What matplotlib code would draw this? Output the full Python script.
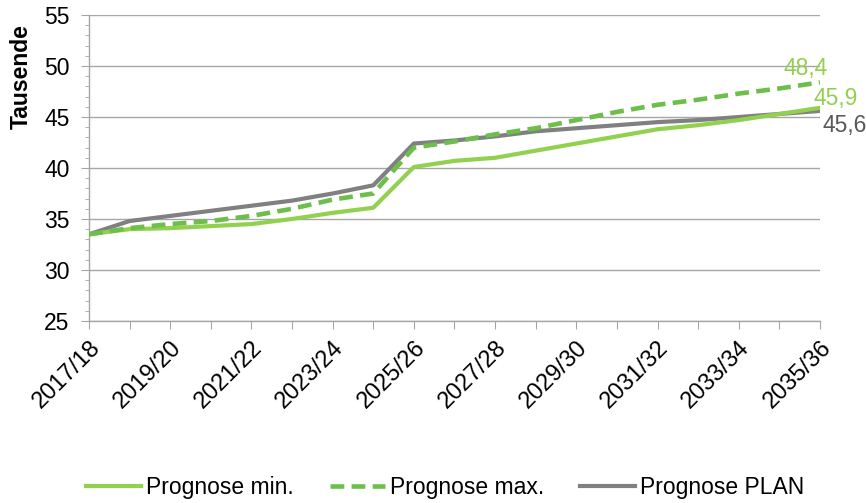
import matplotlib.pyplot as plt
from matplotlib.ticker import MultipleLocator

plt.rcParams['font.family'] = ['Liberation Sans', 'DejaVu Sans']

# Schuljahre (x categories)
years = ['2017/18', '2018/19', '2019/20', '2020/21', '2021/22', '2022/23',
         '2023/24', '2024/25', '2025/26', '2026/27', '2027/28', '2028/29',
         '2029/30', '2030/31', '2031/32', '2032/33', '2033/34', '2034/35',
         '2035/36']

# values in thousands
prognose_min = [33.5, 34.0, 34.1, 34.3, 34.5, 35.0, 35.6, 36.1, 40.1, 40.7,
                41.0, 41.7, 42.4, 43.1, 43.8, 44.2, 44.7, 45.3, 45.9]
prognose_max = [33.5, 34.1, 34.5, 34.8, 35.3, 36.0, 36.9, 37.5, 42.0, 42.6,
                43.3, 43.9, 44.7, 45.5, 46.2, 46.7, 47.3, 47.8, 48.4]
prognose_plan = [33.5, 34.8, 35.3, 35.8, 36.3, 36.8, 37.5, 38.3, 42.4, 42.7,
                 43.1, 43.6, 43.9, 44.2, 44.5, 44.7, 45.0, 45.3, 45.6]

c_min = '#92D050'
c_max = '#6DBE4B'
c_plan = '#808080'
fs = 16.5

fig = plt.figure(figsize=(8.66, 5.03), dpi=100)
ax = fig.add_axes([0.1028, 0.362, 0.844, 0.608])

x = list(range(len(years)))
ax.plot(x, prognose_min, color=c_min, lw=3, label='Prognose min.', zorder=3)
ax.plot(x, prognose_max, color=c_max, lw=3.3, dashes=(3, 1.6), label='Prognose max.', zorder=4)
ax.plot(x, prognose_plan, color=c_plan, lw=3, label='Prognose PLAN', zorder=2)

# end labels
ax.text(x[-1] - 0.34, prognose_max[-1] + 1.4, '48,4', color=c_min, fontsize=fs,
        ha='center', va='center', clip_on=False)
ax.text(x[-1] + 0.4, prognose_min[-1] + 0.95, '45,9', color=c_min, fontsize=fs,
        ha='center', va='center', clip_on=False)
ax.text(x[-1] + 0.6, prognose_plan[-1] - 1.4, '45,6', color='#595959', fontsize=fs,
        ha='center', va='center', clip_on=False)

ax.set_xlim(0, len(years) - 1)
ax.set_ylim(25, 55)
ax.yaxis.set_major_locator(MultipleLocator(5))
ax.yaxis.set_minor_locator(MultipleLocator(1))
ax.grid(True, axis='y', color='#A6A6A6', lw=1)
ax.set_axisbelow(True)

ax.set_xticks(x)
ax.set_xticklabels([y if i % 2 == 0 else '' for i, y in enumerate(years)],
                   rotation=45, ha='right', va='top', rotation_mode='anchor')

for s in ['top', 'right']:
    ax.spines[s].set_visible(False)
for s in ['left', 'bottom']:
    ax.spines[s].set_color('#A6A6A6')
    ax.spines[s].set_linewidth(1)

ax.tick_params(axis='both', which='both', color='#A6A6A6', labelcolor='black')
ax.tick_params(axis='x', length=6, pad=5, labelsize=17)
ax.tick_params(axis='y', which='major', length=6, pad=8, labelsize=fs)
ax.tick_params(axis='y', which='minor', length=3)

ax.set_ylabel('Tausende', fontsize=fs, fontweight='bold')
ax.yaxis.set_label_coords(-0.077, 0.80)

fig.legend(loc='center', bbox_to_anchor=(0.514, 0.03), ncol=3, frameon=False,
           fontsize=fs, handlelength=2.4, handletextpad=0.2, columnspacing=1.6)

fig.savefig('out.png', dpi=100)
